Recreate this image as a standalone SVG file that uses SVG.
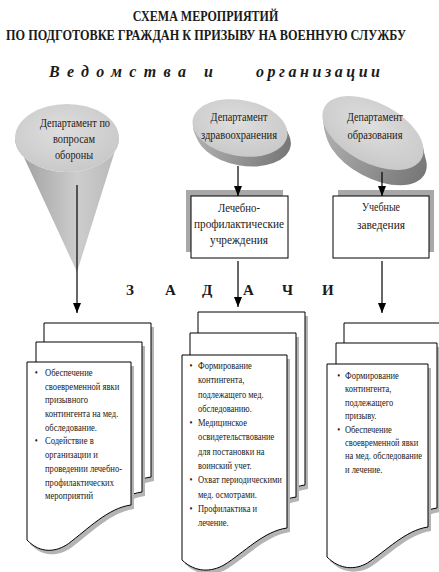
<svg xmlns="http://www.w3.org/2000/svg" width="439" height="572" viewBox="0 0 439 572">
<style>
.t{font-family:"Liberation Serif","Times New Roman",serif;fill:#1a1a1a}
.title{font-size:14.5px;font-weight:bold;text-anchor:middle}
.org{font-size:16px;font-weight:bold;font-style:italic}
.zd{font-size:15px;font-weight:bold}
.lbl{font-size:12px;text-anchor:middle}
.li{font-size:11px}
.page{fill:#fff;stroke:#000;stroke-width:1}
.shd{fill:#b4b4b4}
.box{fill:#fff;stroke:#000;stroke-width:1}
.boxshd{fill:#a8a8a8}
.con{stroke:#000;stroke-width:1.2;fill:none;marker-end:url(#ah)}
</style>
<defs>
<marker id="ah" markerUnits="userSpaceOnUse" markerWidth="10" markerHeight="10" refX="10" refY="4" orient="auto">
<path d="M0,0 L10,4 L0,8 Z" fill="#000"/>
</marker>
<linearGradient id="coneG" x1="0" y1="0" x2="1" y2="0">
<stop offset="0" stop-color="#9c9c9c"/>
<stop offset="0.6" stop-color="#cdcdcd"/>
<stop offset="1" stop-color="#b8b8b8"/>
</linearGradient>
<radialGradient id="topG" cx="0.45" cy="0.4" r="0.7">
<stop offset="0" stop-color="#dedede"/>
<stop offset="1" stop-color="#c6c6c6"/>
</radialGradient>
<linearGradient id="rimG" x1="0" y1="0" x2="1" y2="0">
<stop offset="0" stop-color="#b0b0b0"/>
<stop offset="1" stop-color="#777"/>
</linearGradient>
</defs>

<rect width="439" height="572" fill="#fff"/>

<g id="title">
<g transform="translate(205.5,21) scale(0.83,1)"><text class="t title" x="0" y="0">СХЕМА МЕРОПРИЯТИЙ</text></g>
<g transform="translate(206,40) scale(0.845,1)"><text class="t title" x="0" y="0" font-size="14">ПО ПОДГОТОВКЕ ГРАЖДАН К ПРИЗЫВУ НА ВОЕННУЮ СЛУЖБУ</text></g>
</g>

<g id="heading">
<text class="t org" x="49" y="77" textLength="137" lengthAdjust="spacing">Ведомства</text>
<text class="t org" x="204" y="77">и</text>
<text class="t org" x="256" y="77" textLength="124" lengthAdjust="spacing">организации</text>
</g>

<g id="tasks">
<text class="t zd" x="126 165 202 243 282 322" y="295">ЗАДАЧИ</text>
</g>

<g id="dept-defense">
<path d="M15,138 A52,34 0 0 0 119,138 L77,272 Z" fill="url(#coneG)"/>
<ellipse cx="67" cy="138" rx="52" ry="34" fill="url(#topG)"/>
<text class="t lbl" x="75" y="127" textLength="70" lengthAdjust="spacingAndGlyphs">Департамент по</text>
<text class="t lbl" x="74" y="143" textLength="42" lengthAdjust="spacingAndGlyphs">вопросам</text>
<text class="t lbl" x="74" y="159" textLength="38" lengthAdjust="spacingAndGlyphs">обороны</text>
</g>

<g id="dept-health">
<g transform="rotate(10 240 128)">
<ellipse cx="241" cy="131" rx="48" ry="28" fill="url(#rimG)"/>
<ellipse cx="243" cy="134" rx="48" ry="28" fill="url(#rimG)"/>
<ellipse cx="245" cy="137" rx="48" ry="28" fill="url(#rimG)"/>
<ellipse cx="240" cy="128" rx="48" ry="28" fill="url(#topG)"/>
</g>
<text class="t lbl" x="239" y="121" textLength="57" lengthAdjust="spacingAndGlyphs">Департамент</text>
<text class="t lbl" x="239" y="139" textLength="76" lengthAdjust="spacingAndGlyphs">здравоохранения</text>
</g>

<g id="dept-education">
<g transform="rotate(28 373 133)">
<ellipse cx="376" cy="137" rx="55" ry="30" fill="url(#rimG)"/>
<ellipse cx="379" cy="141" rx="55" ry="30" fill="url(#rimG)"/>
<ellipse cx="383" cy="145" rx="55" ry="30" fill="url(#rimG)"/>
<ellipse cx="373" cy="133" rx="55" ry="30" fill="url(#topG)"/>
</g>
<text class="t lbl" x="375" y="121" textLength="56" lengthAdjust="spacingAndGlyphs">Департамент</text>
<text class="t lbl" x="375" y="139" textLength="55" lengthAdjust="spacingAndGlyphs">образования</text>
</g>

<g id="med-institutions">
<rect class="boxshd" x="186" y="190" width="97" height="62"/>
<rect class="box" x="191" y="196" width="97" height="62"/>
<text class="t lbl" x="239" y="212" textLength="42" lengthAdjust="spacingAndGlyphs">Лечебно-</text>
<text class="t lbl" x="239" y="228" textLength="90" lengthAdjust="spacingAndGlyphs">профилактические</text>
<text class="t lbl" x="239" y="244" textLength="58" lengthAdjust="spacingAndGlyphs">учреждения</text>
</g>

<g id="edu-institutions">
<rect class="boxshd" x="338" y="190" width="96" height="62"/>
<rect class="box" x="333" y="196" width="96" height="62"/>
<text class="t lbl" x="381" y="211" textLength="38" lengthAdjust="spacingAndGlyphs">Учебные</text>
<text class="t lbl" x="381" y="229" textLength="48" lengthAdjust="spacingAndGlyphs">заведения</text>
</g>

<g id="tasks-defense">
<path class="shd" transform="translate(3,4)" d="M44,323 H151 V477 C127.5,480 106,501.5 86.8,515.5 C74,524.3 57.9,526 44,512 Z"/>
<path class="page" d="M44,323 H151 V477 C127.5,480 106,501.5 86.8,515.5 C74,524.3 57.9,526 44,512 Z"/>
<path class="shd" transform="translate(3,4)" d="M36,342 H142 V492 C118.7,495 98,516.5 78.4,530.5 C65.7,539.3 49.8,541 36,527 Z"/>
<path class="page" d="M36,342 H142 V492 C118.7,495 98,516.5 78.4,530.5 C65.7,539.3 49.8,541 36,527 Z"/>
<path class="shd" transform="translate(3,4)" d="M27,362 H131 V505 C108.1,508 87.3,529.5 68.6,543.5 C56.1,552.3 40.5,554 27,540 Z"/>
<path class="page" d="M27,362 H131 V505 C108.1,508 87.3,529.5 68.6,543.5 C56.1,552.3 40.5,554 27,540 Z"/>
<g transform="translate(45,0) scale(0.78,1)">
<text class="t li" x="-13" y="376">•</text>
<text class="t li" x="0" y="376">Обеспечение</text>
<text class="t li" x="0" y="389.7">своевременной явки</text>
<text class="t li" x="0" y="403.4">призывного</text>
<text class="t li" x="0" y="417.1">контингента на мед.</text>
<text class="t li" x="0" y="430.8">обследование.</text>
<text class="t li" x="-13" y="444.5">•</text>
<text class="t li" x="0" y="444.5">Содействие в</text>
<text class="t li" x="0" y="458.2">организации и</text>
<text class="t li" x="0" y="471.9">проведении лечебно-</text>
<text class="t li" x="0" y="485.6">профилактических</text>
<text class="t li" x="0" y="499.3">мероприятий</text>
</g>
</g>

<g id="tasks-health">
<path class="shd" transform="translate(3,4)" d="M198,312 H305 V485 C281.5,488 260,512 240.8,526 C228,534.8 211.9,536.5 198,517 Z"/>
<path class="page" d="M198,312 H305 V485 C281.5,488 260,512 240.8,526 C228,534.8 211.9,536.5 198,517 Z"/>
<path class="shd" transform="translate(3,4)" d="M190,333 H296 V497 C272.7,500 252,524 232.4,538 C219.7,546.8 203.8,548.5 190,529 Z"/>
<path class="page" d="M190,333 H296 V497 C272.7,500 252,524 232.4,538 C219.7,546.8 203.8,548.5 190,529 Z"/>
<path class="shd" transform="translate(3,4)" d="M182,355 H287 V528 C263.9,531 243.4,553 224,565 C211.4,572 195.7,573 182,560 Z"/>
<path class="page" d="M182,355 H287 V528 C263.9,531 243.4,553 224,565 C211.4,572 195.7,573 182,560 Z"/>
<g transform="translate(198,0) scale(0.77,1)">
<text class="t li" x="-11" y="369">•</text>
<text class="t li" x="0" y="369">Формирование</text>
<text class="t li" x="0" y="383.3">контингента,</text>
<text class="t li" x="0" y="397.6">подлежащего мед.</text>
<text class="t li" x="0" y="411.9">обследованию.</text>
<text class="t li" x="-11" y="426.2">•</text>
<text class="t li" x="0" y="426.2">Медицинское</text>
<text class="t li" x="0" y="440.5">освидетельствование</text>
<text class="t li" x="0" y="454.8">для постановки на</text>
<text class="t li" x="0" y="469.1">воинский учет.</text>
<text class="t li" x="-11" y="483.4">•</text>
<text class="t li" x="0" y="483.4">Охват периодическими</text>
<text class="t li" x="0" y="497.7">мед. осмотрами.</text>
<text class="t li" x="-11" y="512">•</text>
<text class="t li" x="0" y="512">Профилактика и</text>
<text class="t li" x="0" y="526.3">лечение.</text>
</g>
</g>

<g id="tasks-education">
<path class="shd" transform="translate(3,4)" d="M344,323 H446 V487 C423.6,490 403,514 384.8,528 C372.6,536.8 357.3,538.5 344,519 Z"/>
<path class="page" d="M344,323 H446 V487 C423.6,490 403,514 384.8,528 C372.6,536.8 357.3,538.5 344,519 Z"/>
<path class="shd" transform="translate(3,4)" d="M336,343 H437 V508 C414.8,511 395,533 376.4,547 C364.3,555.8 349.1,557.5 336,538 Z"/>
<path class="page" d="M336,343 H437 V508 C414.8,511 395,533 376.4,547 C364.3,555.8 349.1,557.5 336,538 Z"/>
<path class="shd" transform="translate(3,4)" d="M327,364 H428 V527 C405.8,530 386,551 367.4,563 C355.3,570 340.1,570 327,557 Z"/>
<path class="page" d="M327,364 H428 V527 C405.8,530 386,551 367.4,563 C355.3,570 340.1,570 327,557 Z"/>
<g transform="translate(345,0) scale(0.77,1)">
<text class="t li" x="-10" y="379">•</text>
<text class="t li" x="0" y="379">Формирование</text>
<text class="t li" x="0" y="392.4">контингента,</text>
<text class="t li" x="0" y="405.8">подлежащего</text>
<text class="t li" x="0" y="419.2">призыву.</text>
<text class="t li" x="-10" y="432.6">•</text>
<text class="t li" x="0" y="432.6">Обеспечение</text>
<text class="t li" x="0" y="446">своевременной явки</text>
<text class="t li" x="0" y="459.4">на мед. обследование</text>
<text class="t li" x="0" y="472.8">и лечение.</text>
</g>
</g>

<g id="connectors">
<line class="con" x1="77" y1="185" x2="77" y2="313"/>
<line class="con" x1="238" y1="166" x2="238" y2="196"/>
<line class="con" x1="238" y1="261" x2="238" y2="307"/>
<line class="con" x1="382" y1="172" x2="382" y2="196"/>
<line class="con" x1="382" y1="261" x2="382" y2="313"/>
</g>
</svg>
